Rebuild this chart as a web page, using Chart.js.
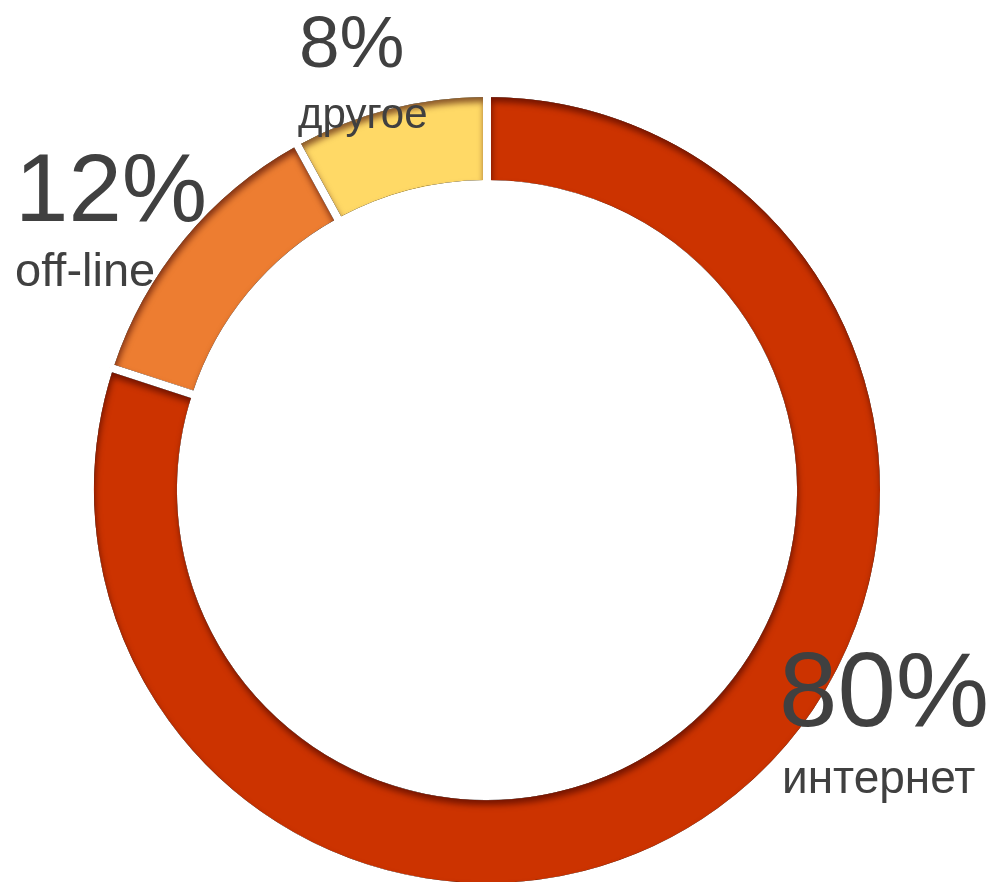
<!DOCTYPE html>
<html>
<head>
<meta charset="utf-8">
<script src="https://cdn.jsdelivr.net/npm/chart.js@4/dist/chart.umd.min.js"></script>
<style>
  html, body { margin: 0; padding: 0; background: #ffffff; overflow: hidden; }
  #wrap { position: relative; width: 994px; height: 892px; }
</style>
</head>
<body>
<div id="wrap"><canvas id="c"></canvas></div>
<script>
// ---- data ----
const categories = ['интернет', 'off-line', 'другое'];
const values = [80, 12, 8];
const colors = ['#CC3300', '#ED7D31', '#FFD966'];
const percentLabels = values.map(v => v + '%');

const GAP = 8;

// label layout: [x, percentBaseline, percentSize, nameBaseline, nameSize, nameX]
const labelLayout = [
  [779, 726, 105, 793, 46, 782],
  [15, 221, 96, 286, 47, 15],
  [299, 67, 73, 128, 42, 298]
];

function ringPath(ctx, el, inset, withMove) {
  const p = el.getProps(['x', 'y', 'startAngle', 'endAngle', 'innerRadius', 'outerRadius'], true);
  const ro = p.outerRadius - inset, ri = p.innerRadius + inset;
  const dO = inset / ro, dI = inset / ri;
  if (withMove) ctx.moveTo(p.x + Math.cos(p.startAngle + dO) * ro, p.y + Math.sin(p.startAngle + dO) * ro);
  ctx.arc(p.x, p.y, ro, p.startAngle + dO, p.endAngle - dO, false);
  ctx.arc(p.x, p.y, ri, p.endAngle - dI, p.startAngle + dI, true);
  ctx.closePath();
}

const innerShadow = {
  id: 'innerShadow',
  afterDatasetsDraw(chart) {
    const ctx = chart.ctx;
    const meta = chart.getDatasetMeta(0);
    meta.data.forEach(el => {
      ctx.save();
      ctx.beginPath();
      ringPath(ctx, el, GAP / 2, false);
      ctx.clip();
      ctx.beginPath();
      ctx.rect(-5000, -5000, 12000, 12000);
      ringPath(ctx, el, GAP / 2, true);
      ctx.shadowColor = 'rgba(60,0,0,0.6)';
      ctx.shadowBlur = 6;
      ctx.shadowOffsetX = 1;
      ctx.shadowOffsetY = 5;
      ctx.fillStyle = '#000';
      ctx.fill('evenodd');
      ctx.restore();
    });
  }
};

const labelsPlugin = {
  id: 'bigLabels',
  afterDraw(chart) {
    const ctx = chart.ctx;
    ctx.save();
    ctx.fillStyle = '#404040';
    ctx.textAlign = 'left';
    ctx.textBaseline = 'alphabetic';
    categories.forEach((name, i) => {
      const L = labelLayout[i];
      ctx.font = L[2] + 'px "Liberation Sans", Arial, sans-serif';
      ctx.fillText(percentLabels[i], L[0], L[1]);
      ctx.font = L[4] + 'px "Liberation Sans", Arial, sans-serif';
      ctx.fillText(name, L[5], L[3]);
    });
    ctx.restore();
  }
};

new Chart(document.getElementById('c'), {
  type: 'doughnut',
  data: {
    labels: categories,
    datasets: [{
      data: values,
      backgroundColor: colors,
      borderColor: '#ffffff',
      borderWidth: GAP,
      hoverOffset: 0,
      offset: 0
    }]
  },
  options: {
    responsive: true,
    maintainAspectRatio: false,
    animation: false,
    cutout: '77.1%',
    rotation: 0,
    layout: { padding: { left: 86, right: 106, top: 89, bottom: 1 } },
    plugins: {
      legend: { display: false },
      tooltip: { enabled: false }
    },
    events: []
  },
  plugins: [innerShadow, labelsPlugin]
});
</script>
</body>
</html>
